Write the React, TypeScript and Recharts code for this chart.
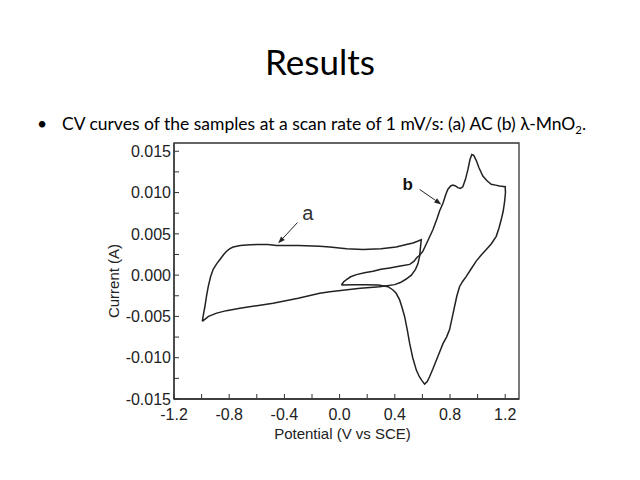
import { LineChart, Line, XAxis, YAxis, ReferenceArea, ReferenceLine, ReferenceDot } from 'recharts'

// curve a (AC): upper branch left->right, then lower branch back
const acPotential = [
  -0.995, -0.985, -0.976, -0.965, -0.952, -0.935, -0.916, -0.89, -0.867, -0.84, -0.819, -0.795, -0.771,
  -0.72, -0.674, -0.6, -0.52, -0.457, -0.4, -0.3, -0.144, -0.071, 0.05, 0.17, 0.3, 0.41, 0.484, 0.532,
  0.565, 0.592, 0.585, 0.58, 0.568, 0.55, 0.52, 0.48, 0.44, 0.399, 0.29, 0.15, -0.071, -0.144, -0.3,
  -0.482, -0.6, -0.722, -0.82, -0.891, -0.95, -0.995,
]
const acCurrent = [
  -0.0056, -0.0046, -0.0038, -0.0026, -0.0014, -0.0002, 0.0007, 0.0014, 0.0019, 0.0025, 0.0029, 0.0032, 0.0034,
  0.0036, 0.00365, 0.0037, 0.0037, 0.0036, 0.0036, 0.0036, 0.0035, 0.0034, 0.0032, 0.0031, 0.0032, 0.0034, 0.0037, 0.0039,
  0.0041, 0.0043, 0.0032, 0.0023, 0.0014, 0.0007, 0.0, -0.0005, -0.0009, -0.00115, -0.0014, -0.0016, -0.002, -0.0022, -0.0028,
  -0.0034, -0.0037, -0.004, -0.0043, -0.0046, -0.005, -0.0056,
]

// curve b (lambda-MnO2): anodic sweep 0 -> 1.2 V, then cathodic back
const mnPotential = [
  0.013, 0.03, 0.05, 0.08, 0.122, 0.18, 0.242, 0.3, 0.363, 0.44, 0.508, 0.54, 0.558, 0.58, 0.604, 0.64,
  0.676, 0.705, 0.725, 0.749, 0.77, 0.785, 0.805, 0.821, 0.84, 0.857, 0.875, 0.893, 0.912, 0.93, 0.945,
  0.958, 0.972, 0.99, 1.01, 1.038, 1.07, 1.099, 1.13, 1.159, 1.2,
  1.202, 1.195, 1.185, 1.171, 1.155, 1.135, 1.1, 1.063, 1.025, 0.99, 0.955, 0.918, 0.89, 0.869, 0.85,
  0.833, 0.815, 0.797, 0.775, 0.749, 0.725, 0.701, 0.675, 0.652, 0.635, 0.616, 0.598, 0.578, 0.556,
  0.53, 0.508, 0.49, 0.471, 0.452, 0.435, 0.41, 0.387, 0.351, 0.28, 0.194, 0.1, 0.013,
]
const mnCurrent = [
  -0.0012, -0.0008, -0.00055, -0.0002, 0.00006, 0.0003, 0.00046, 0.0007, 0.00087, 0.0011, 0.0013, 0.0017, 0.0021, 0.0024, 0.0029, 0.0042,
  0.0055, 0.0068, 0.0078, 0.0087, 0.0098, 0.0104, 0.0108, 0.0109, 0.0108, 0.0106, 0.0105, 0.0107, 0.0116, 0.0128, 0.014,
  0.0146, 0.0145, 0.0139, 0.013, 0.012, 0.0114, 0.011, 0.0109, 0.0108, 0.0107,
  0.01, 0.0088, 0.0077, 0.0067, 0.0057, 0.0047, 0.0038, 0.0031, 0.0024, 0.0017, 0.0008, -0.00015, -0.0008, -0.0014, -0.0025,
  -0.0038, -0.0052, -0.0066, -0.0075, -0.0083, -0.0093, -0.0103, -0.0114, -0.0123, -0.0129, -0.0132, -0.0128, -0.0123, -0.0115,
  -0.01, -0.0083, -0.0066, -0.005, -0.0039, -0.003, -0.0022, -0.0018, -0.0014, -0.0012, -0.00115, -0.00115, -0.0012,
]

const xTicks = [-1.2, -1.0, -0.8, -0.6, -0.4, -0.2, 0, 0.2, 0.4, 0.6, 0.8, 1.0, 1.2]
const xTickLabels = ['-1.2', '', '-0.8', '', '-0.4', '', '0.0', '', '0.4', '', '0.8', '', '1.2']
const yTicks = [-0.015, -0.0125, -0.01, -0.0075, -0.005, -0.0025, 0, 0.0025, 0.005, 0.0075, 0.01, 0.0125, 0.015]
const yTickLabels = ['-0.015', '', '-0.010', '', '-0.005', '', '0.000', '', '0.005', '', '0.010', '', '0.015']

// annotation arrows: [start, tip] in data units
const arrowA = [{ x: -0.305, y: 0.00637 }, { x: -0.445, y: 0.00385 }]
const arrowB = [{ x: 0.58, y: 0.01038 }, { x: 0.737, y: 0.00856 }]

const acData = acPotential.map((x, i) => ({ x, y: acCurrent[i] }))
const mnData = mnPotential.map((x, i) => ({ x, y: mnCurrent[i] }))

const ink = '#222'
const font = '"Liberation Sans", Arial, sans-serif'

const Arrow = (props: any) => {
  const { x1, y1, x2, y2 } = props
  const ang = Math.atan2(y2 - y1, x2 - x1)
  const len = 7
  const w = 2.6
  const bx = x2 - len * Math.cos(ang)
  const by = y2 - len * Math.sin(ang)
  const p1 = `${bx + w * Math.sin(ang)},${by - w * Math.cos(ang)}`
  const p2 = `${bx - w * Math.sin(ang)},${by + w * Math.cos(ang)}`
  return (
    <g>
      <line x1={x1} y1={y1} x2={bx} y2={by} stroke={ink} strokeWidth={1} />
      <polygon points={`${x2},${y2} ${p1} ${p2}`} fill={ink} />
    </g>
  )
}

export default function App() {
  return (
    <div style={{ position: 'absolute', left: 0, top: 0, width: 640, height: 480, background: '#fff' }}>
      <div
        style={{
          position: 'absolute', left: 0, top: 44, width: 640, textAlign: 'center',
          fontFamily: 'Lato, sans-serif', fontSize: 35, lineHeight: 1, color: '#000',
        }}
      >
        Results
      </div>
      <div
        style={{
          position: 'absolute', left: 37, top: 115, fontFamily: 'Lato, sans-serif',
          fontSize: 17.5, lineHeight: 1, color: '#000', whiteSpace: 'nowrap',
        }}
      >
        <span style={{ display: 'inline-block', width: 25 }}>•</span>
        CV curves of the samples at a scan rate of 1 mV/s: (a) AC (b) λ-MnO
        <span style={{ fontSize: '0.65em', verticalAlign: '-0.35em' }}>2</span>.
      </div>
      <div style={{ position: 'absolute', left: 0, top: 0 }}>
        <LineChart width={640} height={480} margin={{ top: 143, right: 121, bottom: 51, left: 114 }}>
          <XAxis
            dataKey="x"
            type="number"
            domain={[-1.2, 1.3]}
            ticks={xTicks}
            interval={0}
            height={30}
            tickSize={-5}
            tickMargin={15}
            tickFormatter={(_v: number, i: number) => xTickLabels[i]}
            tick={{ fill: ink, fontSize: 16, fontFamily: font }}
            axisLine={{ stroke: '#333', strokeWidth: 1.3 }}
            tickLine={{ stroke: '#333' }}
            allowDataOverflow
            label={({ viewBox }: any) => (
              <text
                x={viewBox.x + viewBox.width / 2 - 4}
                y={viewBox.y + 40}
                textAnchor="middle"
                fill={ink}
                fontSize={15}
                fontFamily={font}
              >
                Potential (V vs SCE)
              </text>
            )}
          />
          <YAxis
            dataKey="y"
            type="number"
            domain={[-0.015, 0.016]}
            ticks={yTicks}
            interval={0}
            width={60}
            tickSize={-5}
            tickMargin={8}
            tickFormatter={(_v: number, i: number) => yTickLabels[i]}
            tick={{ fill: ink, fontSize: 16, fontFamily: font }}
            axisLine={{ stroke: '#333', strokeWidth: 1.3 }}
            tickLine={{ stroke: '#333' }}
            allowDataOverflow
            label={({ viewBox }: any) => {
              const cx = viewBox.x - 1
              const cy = viewBox.y + viewBox.height / 2 + 10
              return (
                <text
                  x={cx}
                  y={cy}
                  transform={`rotate(-90 ${cx} ${cy})`}
                  textAnchor="middle"
                  dominantBaseline="central"
                  fill={ink}
                  fontSize={15}
                  fontFamily={font}
                >
                  Current (A)
                </text>
              )
            }}
          />
          <ReferenceArea x1={-1.2} x2={1.3} y1={-0.015} y2={0.016} fill="none" stroke="#333" strokeWidth={1.3} fillOpacity={0} />
          <Line data={acData} dataKey="y" type="linear" stroke={ink} strokeWidth={1.5} dot={false} isAnimationActive={false} />
          <Line data={mnData} dataKey="y" type="linear" stroke={ink} strokeWidth={1.5} dot={false} isAnimationActive={false} />
          <ReferenceLine segment={arrowA} shape={Arrow} />
          <ReferenceLine segment={arrowB} shape={Arrow} />
          <ReferenceDot
            x={-0.23}
            y={0.0075}
            r={0}
            fill="none"
            stroke="none"
            label={{ value: 'a', position: 'center', fill: '#333', fontSize: 20, fontFamily: font }}
          />
          <ReferenceDot
            x={0.493}
            y={0.011}
            r={0}
            fill="none"
            stroke="none"
            label={{ value: 'b', position: 'center', fill: '#111', fontSize: 17, fontWeight: 'bold', fontFamily: font }}
          />
        </LineChart>
      </div>
    </div>
  )
}
